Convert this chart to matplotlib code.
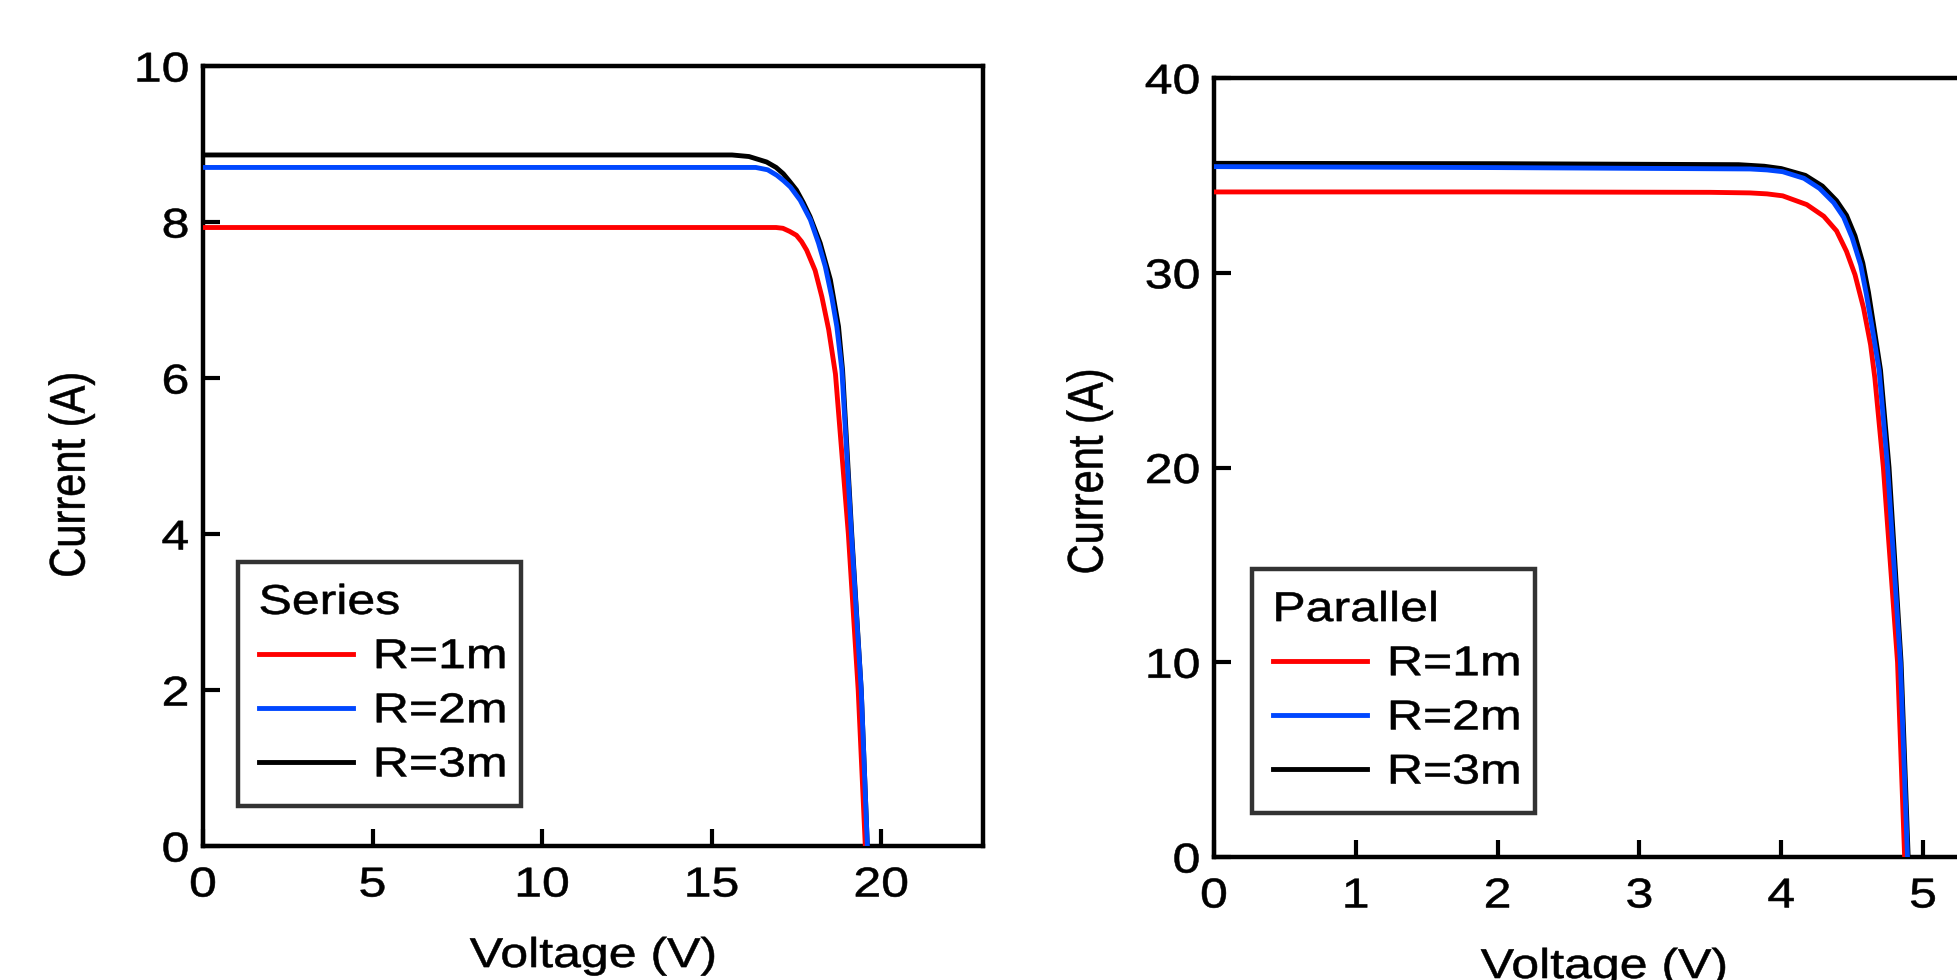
import matplotlib
matplotlib.use("Agg")
import matplotlib.pyplot as plt
from matplotlib.patheffects import AbstractPathEffect
from matplotlib.transforms import Affine2D

plt.rcParams['font.family'] = ['Liberation Sans', 'DejaVu Sans']

# I-V curves of the series string (left) and the parallel string (right)
labels = ['R=1m', 'R=2m', 'R=3m']
colors = ['#ff0000', '#0047ff', '#000000']

ser_v_r1 = [0, 10, 16.9, 17.1, 17.3, 17.5, 17.65, 17.8, 18.05, 18.25, 18.45, 18.65, 19.03, 19.32, 19.53]
ser_i_r1 = [7.93, 7.93, 7.93, 7.92, 7.88, 7.83, 7.75, 7.64, 7.38, 7.04, 6.62, 6.05, 4.0, 2.0, 0]
ser_v_r2 = [0, 10, 16.3, 16.65, 16.92, 17.12, 17.32, 17.61, 17.91, 18.15, 18.35, 18.54, 18.69, 18.84, 19.12, 19.41, 19.59]
ser_i_r2 = [8.70, 8.70, 8.70, 8.67, 8.60, 8.53, 8.45, 8.28, 8.03, 7.73, 7.43, 7.04, 6.66, 6.10, 4.0, 2.0, 0]
ser_v_r3 = [0, 10, 15.6, 16.1, 16.62, 16.9, 17.11, 17.3, 17.5, 17.7, 17.9, 18.2, 18.5, 18.74, 18.86, 19.13, 19.41, 19.59]
ser_i_r3 = [8.86, 8.86, 8.86, 8.84, 8.77, 8.70, 8.62, 8.52, 8.41, 8.25, 8.07, 7.73, 7.26, 6.66, 6.10, 4.0, 2.0, 0]

par_v_r1 = [0, 2, 3.5, 3.78, 3.9, 4.01, 4.18, 4.30, 4.39, 4.46, 4.52, 4.58, 4.63, 4.66, 4.72, 4.82, 4.87]
par_i_r1 = [34.15, 34.15, 34.13, 34.1, 34.05, 33.95, 33.5, 32.9, 32.15, 31.1, 29.9, 28.2, 26.3, 24.6, 20.0, 10.0, 0]
par_v_r2 = [0, 2, 3.78, 3.9, 4.01, 4.16, 4.27, 4.37, 4.44, 4.50, 4.56, 4.60, 4.65, 4.69, 4.75, 4.84, 4.89]
par_i_r2 = [35.45, 35.4, 35.33, 35.28, 35.19, 34.85, 34.33, 33.6, 32.85, 31.8, 30.4, 28.9, 26.8, 25.0, 20.0, 10.0, 0]
par_v_r3 = [0, 2, 3.7, 3.88, 4.0, 4.17, 4.29, 4.39, 4.46, 4.52, 4.575, 4.615, 4.66, 4.70, 4.76, 4.845, 4.895]
par_i_r3 = [35.62, 35.6, 35.55, 35.47, 35.35, 35.0, 34.45, 33.7, 32.95, 31.9, 30.5, 29.0, 26.9, 25.0, 20.0, 10.0, 0]

ser_xticks = [0, 5, 10, 15, 20]
ser_yticks = [0, 2, 4, 6, 8, 10]
par_xticks = [0, 1, 2, 3, 4, 5]
par_yticks = [0, 10, 20, 30, 40]

WIDE = 1.2  # glyphs are drawn wider than the stock font


class Stretch(AbstractPathEffect):
    """Scale a text path about one of its edges, and give it a thin outline."""

    def __init__(self, sx=1.0, sy=1.0, anchor='center', lw=0.4):
        super().__init__()
        self.sx, self.sy, self.anchor, self.lw = sx, sy, anchor, lw

    def draw_path(self, renderer, gc, tpath, affine, rgbFace=None):
        ext = tpath.get_extents()
        cx = {'left': ext.x0, 'center': (ext.x0 + ext.x1) / 2, 'right': ext.x1}[self.anchor]
        cy = (ext.y0 + ext.y1) / 2
        t = Affine2D().translate(-cx, -cy).scale(self.sx, self.sy).translate(cx, cy) + affine
        gc0 = renderer.new_gc()
        gc0.copy_properties(gc)
        gc0.set_linewidth(self.lw)
        renderer.draw_path(gc0, tpath, t, rgbFace)
        gc0.restore()


fig = plt.figure(figsize=(19.57, 9.8), dpi=100)
ax1 = fig.add_axes([0.1037, 0.1367, 0.3986, 0.7959])
ax2 = fig.add_axes([0.6203, 0.1255, 0.3986, 0.7949])


def draw(ax, curves, title, xlim, ylim, xticks, yticks, ylab_xy, leg_xy):
    zord = [3, 4, 2]  # black underneath, blue on top
    handles = []
    for (v, i), c, lab, z in zip(curves, colors, labels, zord):
        h, = ax.plot(v, i, color=c, lw=3.5, label=lab, zorder=z)
        handles.append(h)
    ax.set_xlim(*xlim)
    ax.set_ylim(*ylim)
    ax.set_xticks(xticks)
    ax.set_yticks(yticks)
    for s in ax.spines.values():
        s.set_linewidth(3.2)
    ax.tick_params(direction='in', length=12, width=3, labelsize=30)
    ax.tick_params(axis='x', pad=14)
    ax.tick_params(axis='y', pad=10)
    ax.set_xlabel('Voltage (V)', fontsize=30, labelpad=22)
    ax.set_ylabel('Current (A)', fontsize=30)
    ax.yaxis.set_label_coords(*ylab_xy)

    for t in ax.xaxis.get_major_ticks():
        t.label1.set_path_effects([Stretch(sx=WIDE, anchor='center')])
    for t in ax.yaxis.get_major_ticks():
        t.label1.set_path_effects([Stretch(sx=WIDE, anchor='right')])
    ax.xaxis.label.set_path_effects([Stretch(sx=WIDE)])
    ax.yaxis.label.set_path_effects([Stretch(sy=WIDE)])

    leg = ax.legend(handles=handles, title=title, loc='lower left',
                    bbox_to_anchor=(leg_xy[0], leg_xy[1], 0.363, 0.3), mode='expand',
                    fontsize=30, title_fontsize=30, frameon=True, fancybox=False,
                    handlelength=2.25, handletextpad=0.5, labelspacing=0.34,
                    borderpad=0.5, alignment='left', borderaxespad=0)
    leg.get_frame().set_edgecolor('black')
    leg.get_frame().set_linewidth(3.2)
    for line in leg.get_lines():
        line.set_linewidth(3.5)
    for txt in leg.get_texts() + [leg.get_title()]:
        txt.set_path_effects([Stretch(sx=WIDE, anchor='left')])


draw(ax1, [(ser_v_r1, ser_i_r1), (ser_v_r2, ser_i_r2), (ser_v_r3, ser_i_r3)],
     'Series', (0, 23), (0, 10), ser_xticks, ser_yticks, (-0.143, 0.476), (0.045, 0.051))
draw(ax2, [(par_v_r1, par_i_r1), (par_v_r2, par_i_r2), (par_v_r3, par_i_r3)],
     'Parallel', (0, 5.5), (0, 40), par_xticks, par_yticks, (-0.134, 0.495), (0.049, 0.056))

fig.savefig('out.png', dpi=100)
